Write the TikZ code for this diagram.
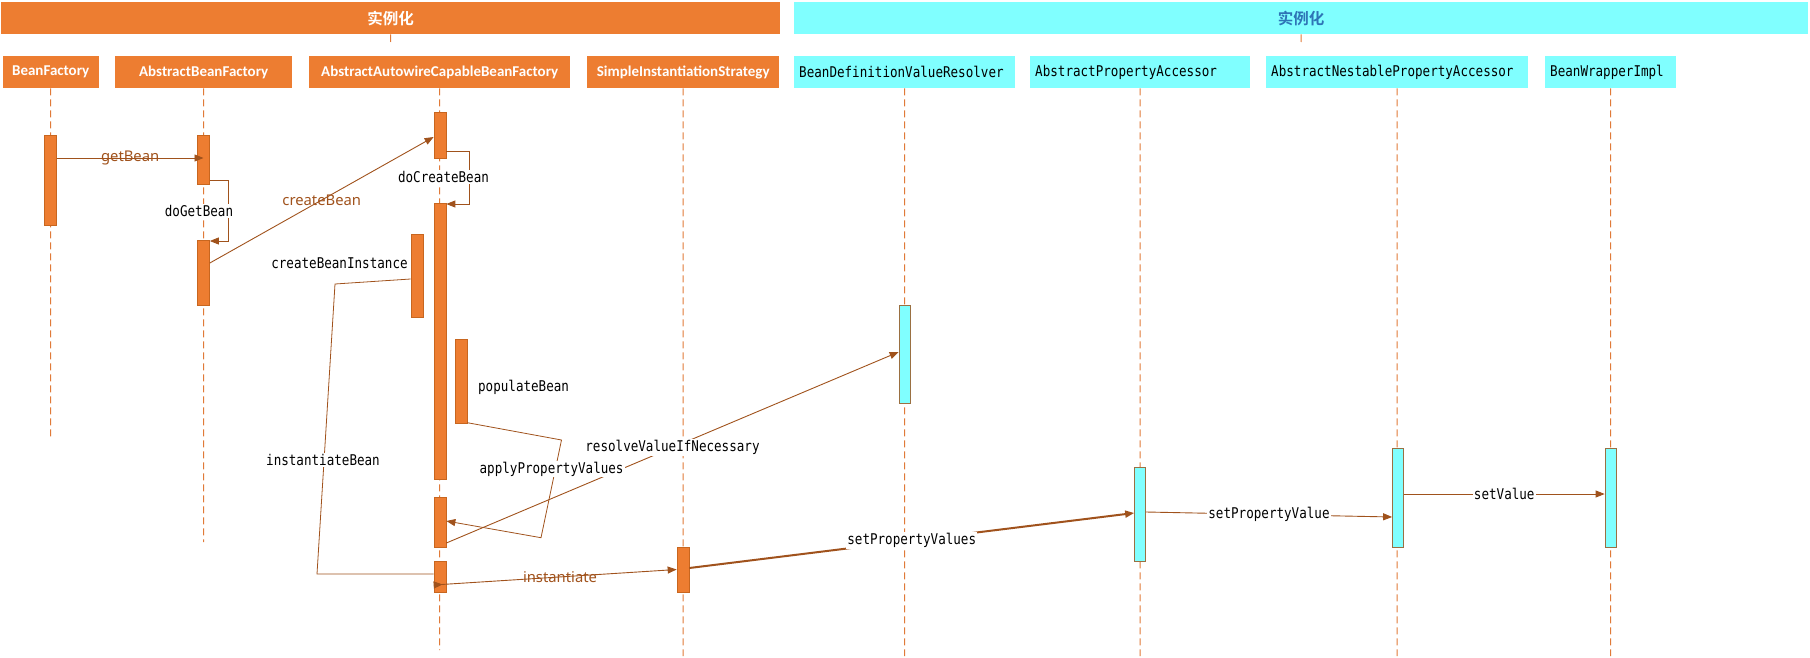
\documentclass[tikz,border=0pt]{standalone}
\usepackage{fontspec}
\setmainfont{Noto Sans}
\newfontfamily\cjkf{Noto Sans CJK SC}[BoldFont={Noto Sans CJK SC Bold}]
\newfontfamily\boxf{Carlito}
\newfontfamily\monof{DejaVu Sans Mono}[FakeStretch=0.85]
\usetikzlibrary{arrows.meta,calc}
\definecolor{obg}{HTML}{ED7D31}
\definecolor{cbg}{HTML}{80FFFF}
\definecolor{arr}{HTML}{A0521C}
\definecolor{lifec}{HTML}{E07A38}
\definecolor{oborder}{HTML}{C8661F}
\definecolor{cborder}{HTML}{9A7042}
\definecolor{hblue}{HTML}{2E75B6}
\begin{document}
\begin{tikzpicture}[x=1pt,y=-1pt,
  hdr/.style={rectangle,inner sep=0pt,minimum height=32pt,anchor=north west,font=\cjkf\bfseries\fontsize{15.5}{18}\selectfont},
  ocls/.style={rectangle,inner sep=0pt,minimum height=32pt,anchor=north west,fill=obg,text=white,font=\boxf\bfseries\fontsize{15}{18}\selectfont},
  ccls/.style={rectangle,inner ysep=0pt,inner xsep=5pt,minimum height=32pt,anchor=north west,fill=cbg,text=black,align=left,font=\monof\fontsize{14.8}{17}\selectfont},
  life/.style={draw=lifec,line width=1pt,dash pattern=on 7pt off 4pt},
  obar/.style={rectangle,inner sep=0pt,minimum width=12pt,anchor=north,fill=obg,draw=oborder,line width=0.7pt},
  cbar/.style={rectangle,inner sep=0pt,minimum width=11pt,anchor=north,fill=cbg,draw=cborder,line width=0.7pt},
  tip/.style={-{Triangle[length=9pt,width=7pt]}},
  msg/.style={draw=arr,line width=0.9pt,tip},
  wire/.style={draw=arr,line width=0.8pt},
  blab/.style={text=arr,font=\fontsize{14.8}{17}\selectfont,inner sep=0pt},
  mlab/.style={text=black,font=\monof\fontsize{14.8}{17}\selectfont,fill=white,inner sep=1pt},
]
\useasboundingbox (0,0) rectangle (1810,658);

% headers
\node[hdr,fill=obg,minimum width=779pt,text=white] (h1) at (1,2) {实例化};
\node[hdr,fill=cbg,minimum width=1014pt,text=hblue] (h2) at (794,2) {实例化};
\coordinate (h1t) at (390.5,42);
\coordinate (h2t) at (1301,42);
\draw[draw=lifec,line width=1pt] (h1.south) -- (h1t);
\draw[draw=lifec,line width=1pt] (h2.south) -- (h2t);

% class boxes
\node[ocls,minimum width=96pt] (bf) at (2.5,56) {BeanFactory};
\node[ocls,minimum width=177pt] (abf) at (115,56) {AbstractBeanFactory};
\node[ocls,minimum width=261pt] (aa) at (309,56) {AbstractAutowireCapableBeanFactory};
\node[ocls,minimum width=192pt] (sis) at (587,56) {SimpleInstantiationStrategy};
\node[ccls,text width=211pt] (bdvr) at (794,56) {BeanDefinitionValueResolver};
\node[ccls,text width=210pt] (apa) at (1030,56) {AbstractPropertyAccessor};
\node[ccls,text width=252pt] (anpa) at (1266,56) {AbstractNestablePropertyAccessor};
\node[ccls,text width=121pt] (bwi) at (1545,56) {BeanWrapperImpl};

% lifelines
\coordinate (bfe) at (50.5,439);
\coordinate (abfe) at (203.5,542);
\coordinate (aae) at (439.5,650);
\coordinate (sise) at (683,656);
\coordinate (bdvre) at (904.5,656);
\coordinate (apae) at (1140,656);
\coordinate (anpae) at (1397,656);
\coordinate (bwie) at (1610.5,656);
\draw[life] (bf.south) -- (bfe);
\draw[life] (abf.south) -- (abfe);
\draw[life] (aa.south) -- (aae);
\draw[life] (sis.south) -- (sise);
\draw[life] (bdvr.south) -- (bdvre);
\draw[life] (apa.south) -- (apae);
\draw[life] (anpa.south) -- (anpae);
\draw[life] (bwi.south) -- (bwie);

% activation bars
\node[obar,minimum height=90pt] (bf1) at (50.5,135) {};
\node[obar,minimum height=49pt] (abf1) at (203.5,135) {};
\node[obar,minimum height=65pt] (abf2) at (203.5,240) {};
\node[obar,minimum height=46pt] (aa1) at (440,112) {};
\node[obar,minimum height=276pt] (aa2) at (440,203) {};
\node[obar,minimum height=83pt] (cbi) at (417,234) {};
\node[obar,minimum height=84pt] (pb) at (461,339) {};
\node[obar,minimum height=50pt] (aa3) at (440,497) {};
\node[obar,minimum height=31pt] (aa4) at (440,561) {};
\node[obar,minimum height=45pt] (sis1) at (683,547) {};
\node[cbar,minimum height=98pt] (bdvr1) at (904.5,305) {};
\node[cbar,minimum height=94pt] (apa1) at (1140,467) {};
\node[cbar,minimum height=99pt] (anpa1) at (1398,448) {};
\node[cbar,minimum height=99pt] (bwi1) at (1610.5,448) {};

% messages
\draw[msg] ($(bf1.north east)+(0,23)$) -- ($(abf1.north)+(0,23)$) node[blab,midway] {getBean};

\coordinate (dgb) at (228,241);
\draw[wire,tip] ($(abf1.north east)+(0,45)$) -| (dgb) -- ($(abf2.north east)+(0,1)$);
\node[mlab] (ldgb) at (199,211) {doGetBean};

\draw[msg] ($(abf2.north east)+(0,23)$) -- ($(aa1.north west)+(0,25)$) node[blab,midway] {createBean};

\coordinate (dcb) at (469,204);
\draw[wire,tip] ($(aa1.north east)+(0,39)$) -| (dcb) -- ($(aa2.north east)+(0,1)$);
\node[mlab] (ldcb) at (443.5,177) {doCreateBean};

\node[mlab,fill=none] (lcbi) at (339.5,263) {createBeanInstance};

\coordinate (ib1) at (335,284);
\coordinate (ib2) at (317,574);
\draw[wire] ($(cbi.north west)+(0,45)$) -- (ib1) -- (ib2) -- (ib2 -| aa4.west);
\node[mlab] (lib) at (323,460) {instantiateBean};

\node[mlab,fill=none] (lpb) at (523.6,387) {populateBean};

\draw[msg] ($(aa3.north east)+(0,46)$) -- ($(bdvr1.north west)+(0,47)$) node[mlab,midway] {resolveValueIfNecessary};

\coordinate (apv1) at (561.5,440);
\coordinate (apv2) at (541,537.7);
\draw[wire,tip] ($(pb.south east)+(0,-1)$) -- (apv1) -- (apv2) -- ($(aa3.north east)+(0,24)$);
\node[mlab] (lapv) at (551.6,469) {applyPropertyValues};

\draw[draw=arr,line width=0.9pt,{Triangle[reversed,length=9pt,width=7pt]}-{Triangle[length=9pt,width=7pt]}] ($(aa4.north west)+(0,24)$) -- ($(sis1.north west)+(0,22.5)$) node[blab,pos=0.52] {instantiate};

\draw[msg,line width=2pt] ($(sis1.north east)+(0,21)$) -- ($(apa1.north west)+(0,46)$) node[mlab,midway] {setPropertyValues};

\draw[msg] ($(apa1.north east)+(0,45)$) -- ($(anpa1.north west)+(0,69)$) node[mlab,midway] {setPropertyValue};

\draw[msg] ($(anpa1.north east)+(0,46)$) -- ($(bwi1.north west)+(0,46)$) node[mlab,midway] {setValue};

\end{tikzpicture}
\end{document}
